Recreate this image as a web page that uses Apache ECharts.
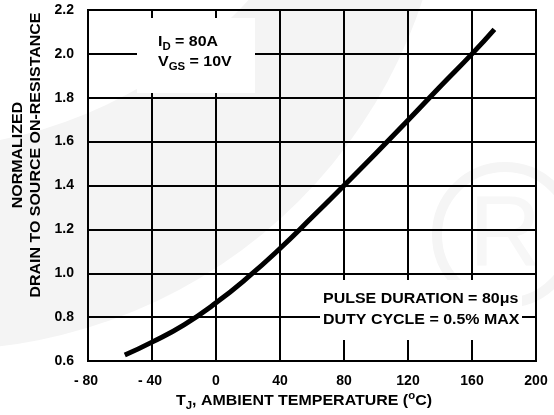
<!DOCTYPE html>
<html>
<head>
<meta charset="utf-8">
<script src="https://cdn.jsdelivr.net/npm/echarts@6/dist/echarts.min.js"></script>
<style>
  html, body { margin: 0; padding: 0; background: #fff; }
  #chart { width: 554px; height: 415px; }
</style>
</head>
<body>
<div id="chart"></div>
<script>
// values
const tempC = [-57, -40, -20, 0, 20, 40, 60, 80, 100, 120, 140, 160, 174]
const rdsNorm = [0.627, 0.686, 0.765, 0.865, 0.982, 1.113, 1.255, 1.40, 1.547, 1.697, 1.85, 2.0, 2.112]

const xTicks = [-80, -40, 0, 40, 80, 120, 160, 200]
const yTicks = [0.6, 0.8, 1.0, 1.2, 1.4, 1.6, 1.8, 2.0, 2.2]

const font = '"Liberation Sans", Arial, sans-serif'
const wide = 1.14   // the source lettering is a bit stretched sideways
const chart = echarts.init(document.getElementById('chart'))

const points = tempC.map((t, i) => [t, rdsNorm[i]])

// rich styles with sub/superscripts
const makeRich = lh => ({
    b: { fontSize: 14, fontWeight: 'bold', fontFamily: font, lineHeight: lh, verticalAlign: 'top' },
    s: { fontSize: 10, fontWeight: 'bold', fontFamily: font, lineHeight: lh, padding: [7, 0, 0, 0], verticalAlign: 'top' },
    u: { fontSize: 10, fontWeight: 'bold', fontFamily: font, lineHeight: lh, padding: [-3, 0, 0, 0], verticalAlign: 'top' }
})

chart.setOption({
    animation: false,
    backgroundColor: '#fff',
    grid: {
        left: 88, right: 18, top: 10, bottom: 54,
        show: true, borderColor: '#000', borderWidth: 2
    },
    xAxis: {
        type: 'value',
        min: xTicks[0], max: xTicks[xTicks.length - 1], interval: 40,
        axisLine: { show: false },
        axisTick: { show: false },
        splitLine: { lineStyle: { color: '#000', width: 2 } },
        axisLabel: {
            margin: 13, color: '#000', fontWeight: 'bold', fontSize: 14, fontFamily: font,
            formatter: v => v < 0 ? '- ' + Math.abs(v) + ' ' : String(v)
        }
    },
    yAxis: {
        type: 'value',
        min: yTicks[0], max: yTicks[yTicks.length - 1], interval: 0.2,
        axisLine: { show: false },
        axisTick: { show: false },
        splitLine: { lineStyle: { color: '#000', width: 2 } },
        axisLabel: {
            margin: 14, color: '#000', fontWeight: 'bold', fontSize: 14, fontFamily: font,
            formatter: v => v.toFixed(1)
        }
    },
    graphic: [
        // faint watermark behind the grid
        { type: 'circle', z: -10, shape: { cx: -61, cy: -159, r: 509 }, style: { fill: '#f4f4f4' } },
        { type: 'circle', z: -9, shape: { cx: -90, cy: -310, r: 459 }, style: { fill: '#fff' } },
        { type: 'circle', z: -9, shape: { cx: 505, cy: 235, r: 68 }, style: { fill: 'none', stroke: '#f5f5f5', lineWidth: 10 } },
        {
            type: 'text', z: -9, x: 505, y: 238,
            style: { text: 'R', fill: '#f7f7f7', fontSize: 100, fontFamily: font, align: 'center', verticalAlign: 'middle' }
        },
        // white boxes behind the notes
        { type: 'rect', z: 10, shape: { x: 137, y: 18, width: 118, height: 75 }, style: { fill: '#fff' } },
        { type: 'rect', z: 10, shape: { x: 320, y: 280, width: 202, height: 60 }, style: { fill: '#fff' } },
        {
            type: 'text', z: 11, x: 158, y: 35, scaleX: wide,
            style: { text: '{b|I}{s|D}{b| = 80A}\n{b|V}{s|GS}{b| = 10V}', fill: '#000', rich: makeRich(20) }
        },
        {
            type: 'text', z: 11, x: 323, y: 288, scaleX: wide,
            style: {
                text: 'PULSE DURATION = 80\u03bcs\nDUTY CYCLE = 0.5% MAX',
                fill: '#000', fontSize: 14, fontWeight: 'bold', fontFamily: font, lineHeight: 21.5
            }
        },
        {
            type: 'text', x: 304, y: 394, scaleX: wide,
            style: {
                text: '{b|T}{s|J}{b|, AMBIENT TEMPERATURE (}{u|o}{b|C)}',
                fill: '#000', align: 'center', rich: makeRich(18)
            }
        },
        {
            type: 'text', x: 27, y: 155, rotation: Math.PI / 2, scaleX: wide,
            style: {
                text: 'NORMALIZED\nDRAIN TO SOURCE ON-RESISTANCE',
                fill: '#000', fontSize: 14, fontWeight: 'bold', fontFamily: font,
                lineHeight: 18, align: 'center', verticalAlign: 'middle'
            }
        }
    ],
    series: [{
        type: 'line',
        data: points,
        smooth: true,
        showSymbol: false,
        z: 5,
        lineStyle: { color: '#000', width: 5, cap: 'butt' }
    }]
})
</script>
</body>
</html>
